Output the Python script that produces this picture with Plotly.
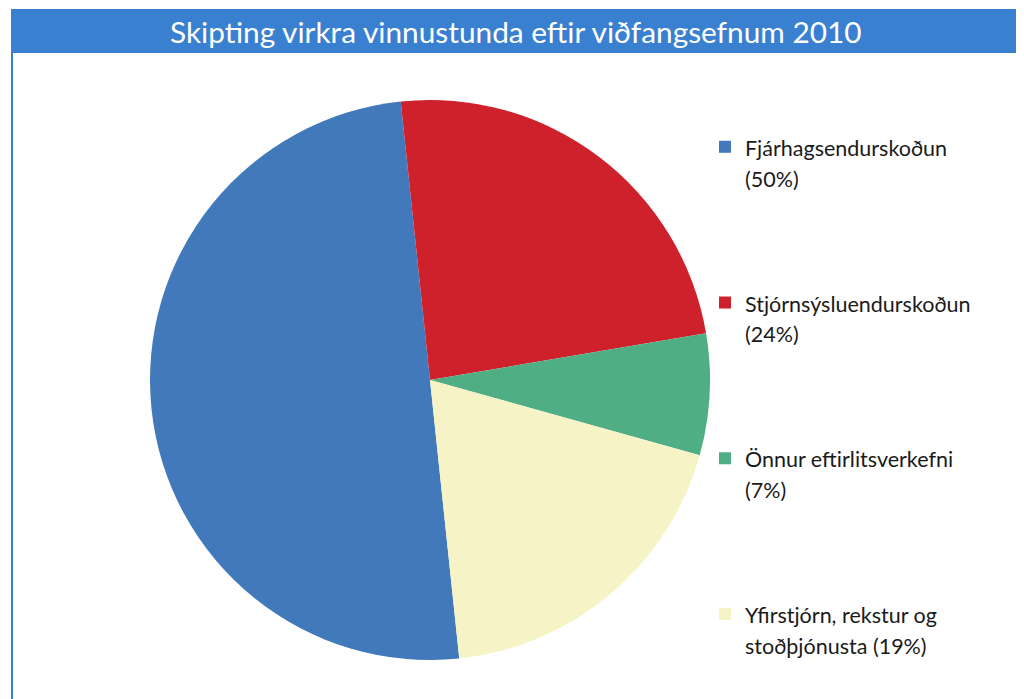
import plotly.graph_objects as go

# ---- data ----
categories = [
    "Fjárhagsendurskoðun",
    "Stjórnsýsluendurskoðun",
    "Önnur eftirlitsverkefni",
    "Yfirstjórn, rekstur og stoðþjónusta",
]
legend_lines = [
    ["Fjárhagsendurskoðun", "({p}%)"],
    ["Stjórnsýsluendurskoðun", "({p}%)"],
    ["Önnur eftirlitsverkefni", "({p}%)"],
    ["Yfirstjórn, rekstur og", "stoðþjónusta ({p}%)"],
]
values = [50, 24, 7, 19]
colors = ["#4279bb", "#cf212c", "#50ae85", "#f6f3c6"]
title_text = "Skipting virkra vinnustunda eftir viðfangsefnum 2010"

# page body has an 8px margin: figure coordinates = reference pixels - 8
OFF = 8
W, H = 1024 - OFF, 699 - OFF
FONT = "Lato"

def px(x): return (x - OFF) / W
def py(y): return 1 - (y - OFF) / H

SPAN = '<span style="font-size:21.5px">{}</span>'
pad = "<br>\u00a0" * 3
labels = []
for i, (l, v) in enumerate(zip(legend_lines, values)):
    t = "<br>".join(SPAN.format(s.format(p=v)) for s in l)
    if i < len(values) - 1:
        t += pad
    labels.append(t)

cx, cy, r = 430, 380, 280
fig = go.Figure(go.Pie(
    labels=labels,
    values=values,
    marker=dict(colors=colors, line=dict(width=0)),
    sort=False,
    direction="clockwise",
    rotation=174,
    textinfo="none",
    hoverinfo="percent",
    domain=dict(x=[px(cx - r), px(cx + r)], y=[py(cy + r), py(cy - r)]),
))

BLUE = "#3a80d1"
fig.update_layout(
    width=W, height=H,
    margin=dict(l=0, r=0, t=0, b=0),
    paper_bgcolor="white",
    plot_bgcolor="white",
    showlegend=True,
    legend=dict(
        x=px(705), y=py(125), xanchor="left", yanchor="top",
        font=dict(family=FONT, size=23.5, color="#1a1a1a"),
        valign="top",
        itemwidth=30,
        bgcolor="rgba(0,0,0,0)",
    ),
    shapes=[
        dict(type="rect", xref="paper", yref="paper",
             x0=px(11), x1=px(1022), y0=py(53), y1=py(9),
             fillcolor=BLUE, line=dict(width=0), layer="below"),
        dict(type="line", xref="paper", yref="paper",
             x0=px(12), x1=px(12), y0=py(53), y1=0,
             line=dict(color=BLUE, width=2)),
        dict(type="line", xref="paper", yref="paper",
             x0=px(1021), x1=px(1021), y0=py(53), y1=0,
             line=dict(color=BLUE, width=2)),
    ],
    annotations=[
        dict(text=title_text, xref="paper", yref="paper",
             x=px(516), y=py(31), xanchor="center", yanchor="middle",
             showarrow=False,
             font=dict(family=FONT, size=29.8, color="white")),
    ],
)

fig.write_html("out.html")
